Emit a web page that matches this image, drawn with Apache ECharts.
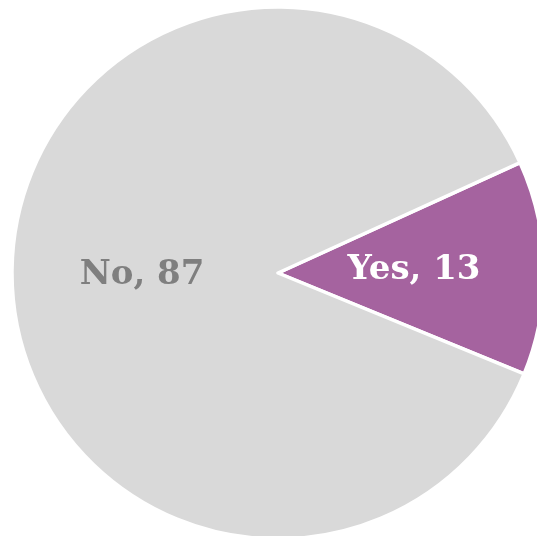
<!DOCTYPE html>
<html>
<head>
<meta charset="utf-8">
<script src="https://cdn.jsdelivr.net/npm/echarts@6/dist/echarts.min.js"></script>
<style>
  html, body { margin: 0; padding: 0; background: #ffffff; }
  #chart { width: 537px; height: 536px; }
</style>
</head>
<body>
<div id="chart"></div>
<script>
// Survey answers and their counts
const categories = ['Yes', 'No'];
const values = [13, 87];
const sliceColors = ['#a5639f', '#d9d9d9'];
const labelColors = ['#ffffff', '#7f7f7f'];

const chart = echarts.init(document.getElementById('chart'), null, { renderer: 'canvas' });

const data = categories.map((name, i) => ({
  name: name,
  value: values[i],
  itemStyle: { color: sliceColors[i] },
  label: { color: labelColors[i] }
}));

chart.setOption({
  animation: false,
  backgroundColor: '#ffffff',
  series: [{
    type: 'pie',
    center: [278, 273],
    radius: [0, 266],
    startAngle: 24.5,
    clockwise: true,
    data: data,
    itemStyle: { borderColor: '#ffffff', borderWidth: 3.5 },
    label: {
      show: true,
      position: 'inside',
      formatter: '{b}, {c}',
      fontFamily: "Georgia, 'DejaVu Serif', serif",
      fontWeight: 'bold',
      fontSize: 34
    },
    labelLine: { show: false },
    emphasis: { disabled: true }
  }]
});
</script>
</body>
</html>
